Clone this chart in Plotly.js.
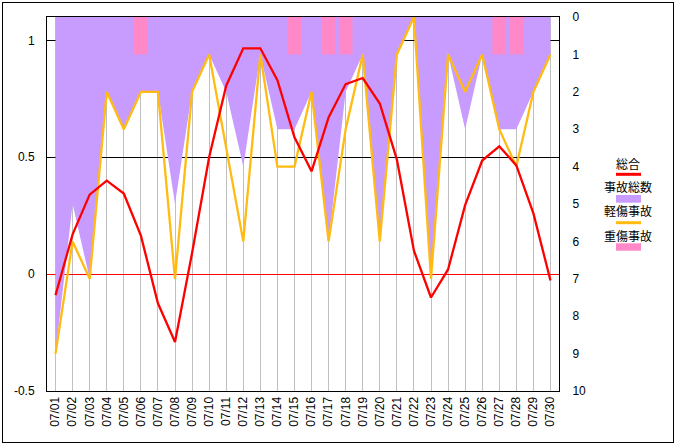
<!DOCTYPE html>
<html>
<head>
<meta charset="utf-8">
<script src="https://cdn.plot.ly/plotly-3.0.1.min.js"></script>
<style>
html,body{margin:0;padding:0;background:#fff;}
#chart{position:absolute;left:0;top:0;width:675px;height:443px;}
#frame{position:absolute;left:2px;top:2px;width:672px;height:441px;box-sizing:border-box;border:1px solid #000;pointer-events:none;}
</style>
</head>
<body>
<div id="chart"></div>
<div id="frame"></div>
<script>
// ---- data ----
var dates = ['07/01','07/02','07/03','07/04','07/05','07/06','07/07','07/08','07/09','07/10',
             '07/11','07/12','07/13','07/14','07/15','07/16','07/17','07/18','07/19','07/20',
             '07/21','07/22','07/23','07/24','07/25','07/26','07/27','07/28','07/29','07/30'];
var sogo = [-0.09,0.17,0.34,0.40,0.345,0.165,-0.125,-0.29,0.09,0.50,
            0.806,0.966,0.966,0.83,0.585,0.44,0.67,0.813,0.839,0.73,
            0.49,0.10,-0.10,0.02,0.295,0.486,0.547,0.465,0.26,-0.027];
var jikoTotal = [9,5,7,2,3,2,2,5,2,1,
                 2,4,1,3,3,2,6,2,1,6,
                 1,0,7,1,3,1,3,3,2,1];
var keisho = [9,6,7,2,3,2,2,7,2,1,
              3.5,6,1,4,4,2,6,3,1,6,
              1,0,7,1,2,1,3,4,2,1];
var jusho = [0,0,0,0,0,1,0,0,0,0,
             0,0,0,0,1,0,1,1,0,0,
             0,0,0,0,0,0,1,1,0,0];
var leftTickVals = [-0.5,0,0.5,1];
var leftTickText = ['-0.5','0','0.5','1'];
var rightTickVals = [0,1,2,3,4,5,6,7,8,9,10];
var rightTickText = ['0','1','2','3','4','5','6','7','8','9','10'];
var names = ['総合','事故総数','軽傷事故','重傷事故'];

// ---- styles ----
var C_RED = '#FF0000', C_PURPLE = '#C89CFF', C_ORANGE = '#FFBB11', C_PINK = '#FF88C8';
var tickFont = {family:'Liberation Sans, Arial, sans-serif', size:12, color:'#000'};
var legFont = {family:'Noto Sans CJK JP, sans-serif', size:12, color:'#000'};

var traces = [
  {type:'scatter', mode:'lines', name:names[1], x:dates, y:jikoTotal, xaxis:'x', yaxis:'y',
   fill:'tozeroy', fillcolor:C_PURPLE, line:{color:C_PURPLE, width:0}, showlegend:false, hoverinfo:'skip'},
  {type:'bar', name:names[3], x:dates, y:jusho, xaxis:'x', yaxis:'y2',
   marker:{color:C_PINK, line:{width:0}}, showlegend:false},
  {type:'scatter', mode:'lines', name:names[2], x:dates, y:keisho, xaxis:'x', yaxis:'y2',
   line:{color:C_ORANGE, width:2.3}, showlegend:false},
  {type:'scatter', mode:'lines', name:names[0], x:dates, y:sogo, xaxis:'x', yaxis:'y3',
   line:{color:C_RED, width:2.3}, showlegend:false}
];

// legend geometry (paper coords)
var lx0 = 1.1113, lx1 = 1.1602, lxc = 1.1357;
var layout = {
  width:675, height:443,
  margin:{l:47, r:116, t:17, b:52, pad:0},
  paper_bgcolor:'rgba(0,0,0,0)', plot_bgcolor:'#fff',
  showlegend:false,
  bargap:0.2,
  font:tickFont,
  xaxis:{type:'category', range:[-0.5,29.5], showgrid:true, gridcolor:'#C0C0C0', gridwidth:1,
         showline:true, mirror:true, linecolor:'#000', linewidth:1, ticks:'', tickangle:-90,
         tickfont:tickFont, zeroline:false, layer:'below traces', fixedrange:true},
  yaxis:{side:'right', range:[10,0], tickvals:rightTickVals, ticktext:rightTickText, showgrid:false,
         zeroline:false, showline:true, linecolor:'#000', linewidth:1, ticks:'', tickfont:tickFont,
         ticklabelstandoff:10},
  yaxis2:{overlaying:'y', side:'right', range:[10,0], visible:false, showgrid:false, zeroline:false},
  yaxis3:{overlaying:'y', side:'left', range:[-0.5,1.1], tickvals:leftTickVals, ticktext:leftTickText,
          showgrid:true, gridcolor:'#000', gridwidth:1, zeroline:true, zerolinecolor:C_RED, zerolinewidth:1,
          showline:true, linecolor:'#000', linewidth:1, ticks:'', tickfont:tickFont, ticklabelstandoff:9},
  annotations:[
    {xref:'paper', yref:'paper', x:lxc, y:0.6096, text:names[0], showarrow:false, xanchor:'center', yanchor:'middle', font:legFont},
    {xref:'paper', yref:'paper', x:lxc, y:0.5455, text:names[1], showarrow:false, xanchor:'center', yanchor:'middle', font:legFont},
    {xref:'paper', yref:'paper', x:lxc, y:0.4826, text:names[2], showarrow:false, xanchor:'center', yanchor:'middle', font:legFont},
    {xref:'paper', yref:'paper', x:lxc, y:0.4171, text:names[3], showarrow:false, xanchor:'center', yanchor:'middle', font:legFont}
  ],
  shapes:[
    {type:'line', xref:'paper', yref:'paper', x0:lx0, x1:lx1, y0:0.5794, y1:0.5794, line:{color:C_RED, width:3}},
    {type:'rect', xref:'paper', yref:'paper', x0:lx0, x1:lx1, y0:0.5035, y1:0.5241, fillcolor:C_PURPLE, line:{width:0}},
    {type:'line', xref:'paper', yref:'paper', x0:lx0, x1:lx1, y0:0.45, y1:0.45, line:{color:C_ORANGE, width:3}},
    {type:'rect', xref:'paper', yref:'paper', x0:lx0, x1:lx1, y0:0.3751, y1:0.3949, fillcolor:C_PINK, line:{width:0}}
  ]
};
Plotly.newPlot('chart', traces, layout, {staticPlot:true, displayModeBar:false});
</script>
</body>
</html>
